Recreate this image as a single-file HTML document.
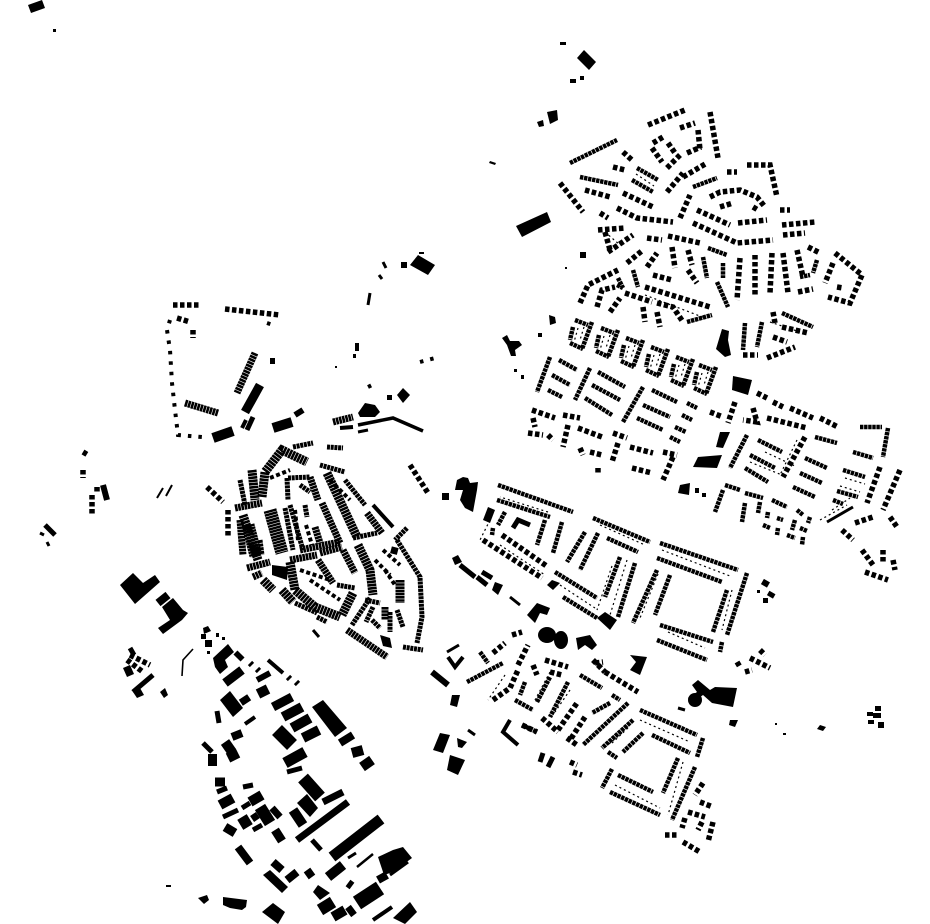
<!DOCTYPE html>
<html><head><meta charset="utf-8"><style>
html,body{margin:0;padding:0;background:#fff}
svg{display:block}
.p{fill:#000;stroke:none}
g{fill:none;stroke:#000}
.h4{stroke-width:4;stroke-dasharray:4 2.6}
.h5{stroke-width:5.5;stroke-dasharray:4.5 2.5}
.r4{stroke-width:4.5;stroke-dasharray:3.4 .7}
.r5{stroke-width:5;stroke-dasharray:3 .7}
.r7{stroke-width:7;stroke-dasharray:2.6 .6}
.r9{stroke-width:9;stroke-dasharray:2.6 .6}
.r13{stroke-width:13;stroke-dasharray:2.4 .5}
.t{stroke-width:1.2;stroke-dasharray:2 3}
.d{stroke-width:4;stroke-dasharray:3.5 7}
</style></head><body>
<svg width="930" height="924" viewBox="0 0 930 924" xmlns="http://www.w3.org/2000/svg">
<defs>
<g id="b">
<path class="r4" d="M575 320L588 325M570 343L583 349"/>
<path class="r4" d="M592 322L582 349"/>
<path class="r4" d="M573 327L570 340"/>
<path class="t" d="M578 328L574 342M584 327L580 340"/>
</g>
</defs>
<!-- solids -->
<g class="p">
<polygon points="28,5 42,0 45,8 31,13"/><rect x="53" y="29" width="3" height="3"/>
<polygon points="584,50 596,62 589,70 577,58"/><rect x="560" y="42" width="6" height="3"/><rect x="570" y="79" width="6" height="4"/><rect x="580" y="76" width="4" height="4"/>
<polygon points="547,112 557,110 558,120 550,124"/><polygon points="537,122 543,120 544,126 539,127"/>
<polygon points="490,161 496,163 495,165 489,163"/>
<polygon points="516,226 547,212 551,222 522,237"/>
<rect x="580" y="252" width="6" height="6"/><rect x="565" y="267" width="2" height="2"/>
<polygon points="722,329 729,331 728,340 731,355 725,357 716,349"/>
<polygon points="549,315 555,317 556,323 550,325"/>
<polygon points="502,338 507,335 510,341 519,341 522,345 515,350 516,356 511,356 507,345"/>
<rect x="538" y="333" width="4" height="4"/><rect x="514" y="369" width="3" height="3"/><rect x="521" y="375" width="3" height="4"/>
<polygon points="733,376 752,380 748,395 732,390"/>
<polygon points="720,432 730,432 723,448 716,447"/>
<polygon points="693,467 698,457 722,455 717,468"/>
<polygon points="680,485 690,483 689,495 678,493"/><rect x="695" y="488" width="4" height="5"/><rect x="702" y="493" width="4" height="4"/>
<polygon points="463,477 468,478 470,483 478,482 477,490 473,512 465,508 460,500 463,490 455,490 457,480"/>
<rect x="442" y="493" width="7" height="7"/>
<polygon points="488,507 495,510 490,523 483,520"/>
<polygon points="452,558 458,555 462,562 455,565"/>
<polygon points="495,582 503,585 498,595 492,590"/>
<polygon points="547,585 552,580 560,583 553,590"/>
<polygon points="597,618 605,612 617,620 610,630"/>
<polygon points="527,615 537,603 550,608 547,615 540,613 535,623"/>
<ellipse cx="547" cy="635" rx="9" ry="8"/><ellipse cx="561" cy="640" rx="7" ry="9"/>
<polygon points="576,638 590,635 597,645 592,650 585,645 578,650"/>
<polygon points="630,655 647,657 640,675 630,670 636,662"/>
<polygon points="692,703 688,698 697,692 692,685 698,680 710,690 715,687 737,688 733,707 712,703 703,695"/><circle cx="695" cy="700" r="7"/>
<polygon points="730,720 738,720 735,727 729,725"/>
<rect x="762" y="580" width="7" height="6" transform="rotate(30 765 583)"/><rect x="768" y="592" width="7" height="5" transform="rotate(30 771 594)"/><rect x="763" y="598" width="5" height="5"/><rect x="757" y="590" width="3" height="3"/>
<polygon points="440,733 450,735 443,753 433,750"/>
<polygon points="450,755 465,760 458,775 447,770"/>
<polygon points="457,738 467,742 462,748 458,747"/>
<polygon points="452,695 460,695 457,707 450,705"/>
<polygon points="820,725 826,727 823,731 817,729"/>
<rect x="867" y="712" width="6" height="4"/><rect x="875" y="706" width="6" height="5"/><rect x="873" y="713" width="8" height="5"/><rect x="868" y="720" width="6" height="4"/><rect x="878" y="722" width="6" height="6"/>
<rect x="775" y="723" width="2" height="2"/><rect x="783" y="733" width="3" height="2"/>
<!-- old town solids -->
<polygon points="272,565 288,567 287,580 272,575"/>
<rect x="391" y="547" width="7" height="7" transform="rotate(15 394 550)"/>
<polygon points="380,635 390,638 392,648 383,646"/>
<!-- NW -->
<polygon points="358,413 365,403 375,405 380,412 375,417 360,417"/>
<polygon points="397,395 403,388 410,395 403,403"/>
<rect x="387" y="395" width="5" height="5"/>
<polygon points="418,255 435,265 428,275 410,265"/>
<rect x="401" y="262" width="6" height="6"/><rect x="419" y="252" width="5" height="2"/>
<rect x="355" y="343" width="4" height="8"/><rect x="353" y="354" width="3" height="4"/><rect x="270" y="358" width="5" height="6"/><rect x="335" y="366" width="2" height="2"/>
<!-- SW -->
<polygon points="120,585 133,573 143,583 155,575 160,582 135,604"/>
<polygon points="162,607 173,598 183,610 188,613 182,620 163,634 158,628 170,620"/>
<polygon points="203,628 208,626 211,631 204,634"/>
<polygon points="213,658 228,644 234,652 225,660 228,667 220,674 215,667"/>
<polygon points="220,700 230,691 243,708 233,717"/>
<polygon points="312,707 323,700 347,728 335,737"/>
<polygon points="297,803 307,794 318,808 310,817"/>
<polygon points="378,857 393,850 403,847 412,858 393,872 384,875"/>
<polygon points="263,875 270,870 288,887 282,893"/>
<polygon points="318,885 330,893 320,900 313,892"/>
<polygon points="393,918 410,902 417,912 405,924"/>
<polygon points="262,912 273,903 285,912 278,924"/>
<polygon points="223,897 247,900 246,907 242,910 230,908 223,905"/>
<polygon points="198,898 207,895 209,900 204,904"/>
<rect x="166" y="885" width="5" height="2"/>
<polygon points="123,668 130,665 134,674 127,677"/>
<polygon points="133,692 140,688 144,695 137,698"/>
<polygon points="160,692 165,688 168,695 164,698"/>
<rect x="201" y="634" width="5" height="5"/><rect x="205" y="640" width="7" height="7"/><rect x="216" y="633" width="3" height="4"/><rect x="222" y="637" width="3" height="3"/><rect x="207" y="651" width="3" height="3"/>
</g>
<!-- solid strokes -->
<g stroke-width="9">
<path stroke-width="11" d="M332 857L381 819"/>
<path d="M273 707L292 697"/><path stroke-width="10" d="M283 717L302 707M292 728L310 718M303 738L319 730"/>
<path stroke-width="14" d="M277 730L292 745"/>
<path stroke-width="8" d="M340 743L353 735M232 737L242 733M287 880L297 872M273 862L282 870M307 870L312 877"/>
<path stroke-width="10" d="M352 753L363 750M362 767L372 760M225 742L232 752M228 758L238 753M220 805L233 798M250 802L262 795M293 810L303 825M328 877L343 865M333 917L345 910"/>
<path stroke-width="11" d="M285 763L305 752M242 817L248 827"/>
<path stroke-width="5" d="M287 772L302 768M203 743L212 752M217 792L227 788M223 817L238 810M242 808L250 803M253 830L262 825M312 840L321 850"/>
<path stroke-width="12" d="M260 807L270 823M208 760L217 760M320 910L333 902"/>
<path stroke-width="13" d="M303 778L320 797"/>
<path stroke-width="7" d="M323 802L343 792M297 840L348 802M348 907L354 915M272 808L280 817M253 814L257 820"/>
<path stroke-width="9" d="M225 683L242 670M275 830L282 841M215 782L225 782M225 827L235 833"/>
<path stroke-width="8" d="M238 847L250 863M378 880L387 875M348 883L352 886"/>
<path stroke-width="15" d="M357 903L380 888"/>
<path stroke-width="10" d="M237 658L241 654M243 697L247 703M258 694L268 689"/>
<path stroke-width="6" d="M257 680L270 673M250 663L252 665M257 669L259 671M288 677L290 679M296 682L298 684"/>
<path stroke-width="4" d="M268 660L283 673M245 724L255 717M373 920L392 907"/>
<path stroke-width="5" d="M217 711L219 723M243 787L253 785"/>
<path stroke-width="3" d="M348 858L356 853M390 875L408 862M313 630L319 637"/>
<path stroke-width="2.5" d="M357 867L373 854"/>
<path stroke-width="1.6" d="M193 649L183 660L182 676"/>
<path stroke-width="8" d="M158 603L168 595"/>
<path stroke-width="5" d="M133 692L153 675M130 648L134 655"/>
<path stroke-width="6" d="M103 485L107 500"/>
<path stroke-width="2" d="M157 498L163 488M166 496L172 485"/>
<path stroke-width="5" d="M45 525L55 535"/>
<path stroke-width="3" d="M40 533L44 535M47 542L49 546"/>
<!-- NW -->
<path stroke-width="10" d="M213 438L233 431M273 428L292 422"/>
<path stroke-width="6" d="M295 415L303 410"/>
<path stroke-width="9" d="M260 385L245 412"/>
<path stroke-width="4" d="M242 428L246 420"/><path stroke-width="5" d="M247 430L253 417"/>
<path stroke-width="3.5" d="M358 425L393 418L423 431"/>
<path stroke-width="4" d="M340 428L353 427"/><path stroke-width="3" d="M358 432L368 430"/>
<path stroke-width="3" d="M386 268L383 262M382 279L379 275M370 293L368 305"/>
<!-- east solids -->
<path stroke-width="3" d="M827 522L853 507"/>
<path stroke-width="5" d="M460 565L475 577M482 572L492 578M477 577L487 585"/>
<path stroke-width="3" d="M510 597L520 605M447 652L459 645"/>
<path stroke-width="6" d="M432 672L448 685"/>
<path stroke-width="4" d="M448 657L455 667L463 657"/>
<path stroke-width="4" d="M510 720L503 732L518 745"/>
<path stroke-width="5" d="M543 753L540 762M553 757L548 767M513 528L518 520L530 525"/>
<path stroke-width="3" d="M678 708L685 710M468 730L475 735"/>
</g>
<!-- row houses -->
<g class="r4">
<path d="M637 168L658 180M632 180L653 192M693 187L717 178M617 285L623 288M618 278L623 288M782 313L813 327M745 323L743 350M762 322L757 347"/>
<path d="M633 270L638 287M687 322L712 315M708 248L727 255M723 263L723 278M717 282L728 307M703 257L707 278M817 260L813 273M800 277L810 275"/>
<path d="M559 360L577 370"/>
<path d="M652 390L677 402M643 405L670 417M637 418L663 430M687 403L697 408M682 415L692 420M675 427L686 432M670 437L680 442"/>
<path d="M643 387L623 422M598 372L625 387M592 385L620 400M585 398L612 415M590 368L575 400"/>
<path d="M550 357L537 392M552 375L570 385M548 390L562 397"/>
<path d="M860 427L882 427M888 428L883 457M853 452L873 458M843 470L865 477M837 491L858 497M833 500L843 504"/>
<path d="M745 493L763 498M725 485L740 490M723 490L715 512M745 503L742 522M760 502L758 513M772 500L787 507M768 512L767 518M777 518L783 520"/>
<path d="M763 525L770 528M778 528L777 535M797 510L803 515M810 517L808 523M795 520L792 530M800 528L807 531M787 535L795 538M803 537L802 545"/>
<path d="M750 455L775 468M758 440L782 452M745 468L768 482M815 437L837 443M805 458L827 468M800 473L822 483M793 487L815 497M747 435L730 468"/>
<path d="M498 485L573 512M497 500L550 517M545 520L537 545M562 522L553 553"/>
<path d="M555 572L597 598M563 597L597 618M593 518L650 542M607 538L638 552M585 532L567 562M598 533L580 570"/>
<path d="M620 557L605 597M635 563L618 617"/>
<path d="M660 543L738 570M657 558L722 582M747 573L727 635M727 590L713 632M657 570L633 623M670 575L655 615M660 625L713 642M657 640L707 660M722 642L720 652"/>
<path d="M467 682L503 663M525 682L520 695M515 700L533 710M537 702L550 677M568 682L550 717M580 675L602 688M612 695L620 700"/>
<path d="M628 703L583 745M610 703L592 713M633 720L602 748M643 733L623 752M608 752L617 758"/>
<path d="M640 710L697 735M652 735L690 753M703 738L697 757M678 758L663 793M695 767L672 820M612 769L602 788M618 775L653 792M610 792L660 815"/>
<path d="M522 725L537 732M480 652L488 663"/>
<path d="M505 512L498 525M493 528L492 535"/>
<path d="M570 163L617 140M580 177L618 185"/>
</g>
<g class="t">
<path d="M636 174L654 186M605 232L620 245M770 322L800 332M490 520L480 540"/>
<path d="M662 550L730 576M658 574L640 618M668 632L705 648M732 590L722 630M548 512L500 497"/>
<path d="M612 566L597 610M627 560L610 615M500 545L545 575M560 585L595 608M600 525L645 545"/>
<path d="M645 295L705 318M640 720L690 742M622 733L604 748M628 728L610 745M683 762L668 815M615 785L660 808"/>
<path d="M505 675L488 700M550 672L535 700M570 690L555 712"/>
<path d="M765 452L795 466M750 462L782 475M797 440L780 475M832 510L850 498"/>
<path d="M845 478L865 484M840 486L860 492M820 520L847 505"/>
</g>
<!-- detached houses -->
<g class="h5">
<path d="M648 125L685 110M710 112L718 158M680 128L695 123M698 130L700 150M687 153L701 147M652 148L662 162M653 143L663 137M668 143L675 153M667 168L680 155"/>
<path d="M623 152L632 160M613 167L625 170M560 183L583 212M585 190L610 197M623 193L653 207M617 208L637 218L673 222M667 192L683 173M683 177L707 163M680 218L690 195"/>
<path d="M727 172L737 172M747 165L770 165L777 197M710 197L720 192L740 190L757 197L765 207M720 207L733 203M753 207L758 210"/>
<path d="M697 210L730 225M738 223L767 220M693 223L737 243L773 240M780 210L790 210M782 225L815 222M783 235L805 233"/>
<path d="M647 238L662 240M668 236L700 243M600 213L608 218M598 230L625 228M608 252L633 235M605 232L610 250"/>
<path d="M627 263L643 250M647 267L657 253M672 247L675 268M688 250L692 265M688 270L697 283"/>
<path d="M740 258L737 300M755 255L755 297M772 253L770 293M783 253L788 293M797 250L803 277M808 247L820 253M798 292L813 289"/>
<path d="M835 253L862 275L850 303L828 297M833 263L825 283M837 287L843 288"/>
<path d="M580 303L588 285L618 270M597 307L602 290L615 287M610 312L620 298"/>
<path d="M653 275L672 280M645 287L710 307M625 293L652 302M643 307L645 322M657 303L673 307L683 322M657 312L660 327"/>
<path d="M782 327L808 333M773 312L775 323M773 337L787 342M767 358L795 347M743 355L758 355"/>
<path d="M532 410L555 418M533 418L535 427M528 433L543 435M548 435L553 440M563 415L580 418M568 425L563 447M578 428L602 437M580 448L583 455M590 452L602 455"/>
<path d="M613 433L627 438M618 443L612 462M598 468L598 475M630 447L653 453M632 468L652 473M663 452L677 455M673 457L663 480"/>
<path d="M710 412L723 417M735 402L728 423M757 393L767 398M773 402L783 407M790 408L813 418M820 418L838 427M753 408L757 422L743 420M767 418L807 428M805 437L783 477"/>
<path d="M880 467L867 503M900 470L883 510M890 517L897 527M855 523L873 517M842 530L853 540M862 550L873 565M883 550L883 563M893 560L895 570M865 572L888 580"/>
<path d="M502 535L548 567M483 540L542 578"/>
<path d="M593 660L605 672M605 672L638 692M595 663L603 662"/>
<path d="M493 700L510 688L518 670M493 653L505 643M512 635L522 632M518 665L528 645M533 665L537 675"/>
<path d="M545 660L568 667M550 672L562 675M542 718L558 732M558 730L577 703M585 717L570 740M567 738L577 745"/>
<path d="M700 802L713 807M703 783L695 795M688 812L705 817M685 818L682 828M702 822L698 830M713 822L708 842M665 835L678 835M683 842L700 852"/>
<path d="M570 762L577 765M573 772L582 775M522 725L537 732M737 662L740 667M745 672L752 670"/>
<path d="M750 658L770 668M760 650L765 655"/>
<path d="M173 305L200 305M225 309L280 315"/>
<path d="M177 318L190 322M193 330L193 338"/>
<path d="M207 487L223 502M228 510L228 538M410 465L428 493"/>
<path d="M130 655L150 665M127 660L143 672"/>
<path d="M83 452L88 455M83 470L83 478M97 487L97 492M92 495L92 515"/>
</g>
<g class="d">
<path d="M170 320L167 330L170 350L172 383L175 410L178 435L202 437"/>
<path d="M267 323L273 325"/>
<path d="M420 362L435 358M368 387L372 385"/>
</g>
<g class="r7">
<path d="M255 353L237 393M185 403L218 413"/>
<path d="M333 422L353 417"/>
</g>
<!-- repeating blocks -->
<use href="#b"/><use href="#b" x="26" y="8"/><use href="#b" x="51" y="18"/><use href="#b" x="76" y="27"/><use href="#b" x="101" y="37"/><use href="#b" x="124" y="45"/>
<!-- old town -->
<g class="r9">
<path d="M262 497L265 472L282 450L307 462"/>
<path d="M252 470L255 500M243 515L258 560"/>
<path d="M327 473L357 537"/>
<path d="M358 545L370 570L373 595"/>
<path d="M290 562L295 590L315 607L340 617"/>
<path d="M353 593L342 615"/>
<path d="M263 580L273 590M282 590L293 602"/>
<path d="M400 580L400 603"/>
</g>
<g class="r13"><path d="M270 510L282 553M248 525L256 556"/></g>
<g class="r7">
<path d="M322 503L340 543M300 550L340 542M315 527L320 543M310 477L318 500M290 560L317 555M320 553L342 547M318 560L333 583M343 550L355 573M247 568L270 562M253 577L262 573"/>
<path d="M367 513L382 533M347 630L387 657M385 607L385 620M240 520L243 555M235 508L262 503"/>
</g>
<g class="r5">
<path d="M285 508L293 550M288 478L310 477M287 478L288 500M305 505L307 517M320 465L345 472M345 480L365 505M353 538L377 533M337 585L355 588M370 598L352 625M365 600L380 603M295 603L317 613M317 617L327 622"/>
<path d="M397 540L420 577L422 617L417 643M403 647L423 650M407 528L395 540M397 610L403 627M372 620L380 628M240 480L245 505M260 540L262 555"/>
<path d="M293 447L313 443M327 447L343 448M290 505L303 550M300 485L310 492M373 607L366 622M390 612L390 632"/>
</g>
<g stroke-width="4">
<path d="M373 505L393 527"/>
</g>
<g class="h4">
<path d="M383 550L400 565M300 570L330 580M310 580L340 600M270 478L290 470M295 510L298 540M306 525L312 545M385 570L395 585M375 560L390 575M330 480L350 500"/>
</g>
</svg>
</body></html>
